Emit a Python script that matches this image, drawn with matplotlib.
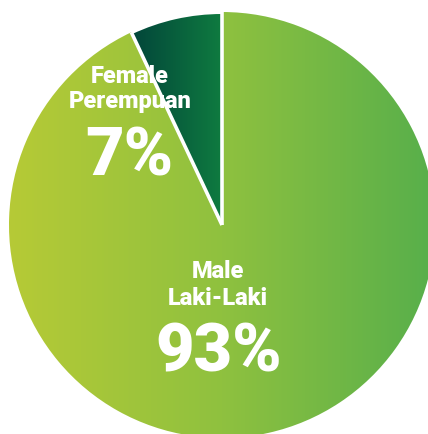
import numpy as np
import matplotlib
matplotlib.use("Agg")
import matplotlib.pyplot as plt
from matplotlib.patches import Wedge
from matplotlib.colors import LinearSegmentedColormap

categories = ["Male\nLaki-Laki", "Female\nPerempuan"]
values = [93, 7]
pct_labels = ["93%", "7%"]

W, H = 428, 435
fig = plt.figure(figsize=(W / 100, H / 100), dpi=100)
ax = fig.add_axes([0, 0, 1, 1])
ax.set_xlim(0, W)
ax.set_ylim(0, H)
ax.set_aspect("equal")
ax.axis("off")

cx, cy, r = 222, H - 226, 213

male_cmap = LinearSegmentedColormap.from_list("m", ["#b6ca36", "#8fc13f", "#57af4b"])
female_cmap = LinearSegmentedColormap.from_list("f", ["#02453a", "#0f7b40"])

total = sum(values)
male_span = 360 * values[0] / total
female_span = 360 * values[1] / total

grad = np.linspace(0, 1, 256).reshape(1, -1)

# Male wedge
male_w = Wedge((cx, cy), r, 90 - male_span, 90, facecolor="none", edgecolor="white", lw=2.4)
ax.add_patch(male_w)
im = ax.imshow(grad, cmap=male_cmap, extent=[cx - r, cx + r, cy - r, cy + r], aspect="auto", zorder=1)
im.set_clip_path(male_w)

# Female wedge
fx0 = cx + r * np.cos(np.radians(90 + female_span))
fem_w = Wedge((cx, cy), r - 2, 90, 90 + female_span, facecolor="none", edgecolor="none")
ax.add_patch(fem_w)
im2 = ax.imshow(grad, cmap=female_cmap, extent=[fx0, cx, cy, cy + r], aspect="auto", zorder=1)
im2.set_clip_path(fem_w)

# white separators
for ang in [90, 90 + female_span]:
    ax.plot([cx, cx + r * np.cos(np.radians(ang))], [cy, cy + r * np.sin(np.radians(ang))],
            color="white", lw=2.6, zorder=3, solid_capstyle="butt")

ax.set_xlim(0, W)
ax.set_ylim(0, H)

font = "Roboto"
ax.text(130, H - 89, categories[1], ha="center", va="center", color="white", fontsize=17,
        fontweight="black", family=font, linespacing=1.15, zorder=4)
ax.text(129, H - 157, pct_labels[1], ha="center", va="center", color="white", fontsize=48,
        fontweight="black", family=font, zorder=4)
ax.text(218, H - 285, categories[0], ha="center", va="center", color="white", fontsize=17,
        fontweight="black", family=font, linespacing=1.2, zorder=4)
ax.text(219, H - 354, pct_labels[0], ha="center", va="center", color="white", fontsize=48,
        fontweight="black", family=font, zorder=4)

fig.savefig("out.png", dpi=100, facecolor="white")
